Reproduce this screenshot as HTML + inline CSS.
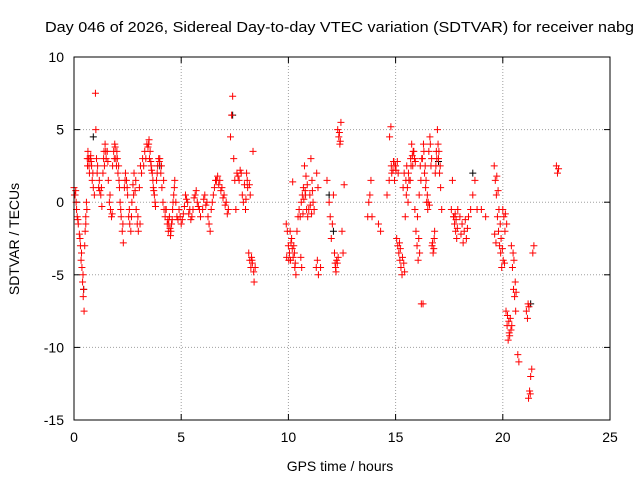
<!DOCTYPE html>
<html><head><meta charset="utf-8"><style>
body{margin:0;background:#fff;font-family:"Liberation Sans",sans-serif}
svg text{font-family:"Liberation Sans",sans-serif;font-size:14px;fill:#000}
</style></head><body>
<svg id="chart" width="640" height="480" xmlns="http://www.w3.org/2000/svg">
<text x="339.5" y="32" text-anchor="middle" textLength="589" lengthAdjust="spacingAndGlyphs" style="font-size:15px">Day 046 of 2026, Sidereal Day-to-day VTEC variation (SDTVAR) for receiver nabg</text>
<text x="340" y="471" text-anchor="middle">GPS time / hours</text>
<text transform="translate(19,239) rotate(-90)" text-anchor="middle">SDTVAR / TECUs</text>
<g id="grid"></g><g id="ticks"></g><g id="marks"></g>
<rect x="74" y="57" width="536" height="363" fill="none" stroke="#000" stroke-width="1"/>
</svg>
<script>
const xTicks=[0,5,10,15,20,25];
const yTicks=[10,5,0,-5,-10,-15];
const redX=[0,0.05,0.1,0.12,0.15,0.2,0.25,0.3,0.33,0.37,0.4,0.43,0.47,0.5,0.52,0.55,0.58,0.6,0.62,0.65,0.7,0.75,0.8,0.85,0.9,0.95,1.0,1.02,1.05,1.1,1.15,1.2,1.25,1.3,1.35,1.4,1.45,1.5,1.55,1.6,1.65,1.7,1.75,1.8,1.85,1.9,1.95,2.0,2.05,2.1,2.15,2.2,2.25,2.3,2.35,2.4,2.45,2.5,2.55,2.6,2.65,2.7,2.75,2.8,2.85,2.9,2.95,3.0,3.05,3.1,3.2,3.3,3.4,3.5,3.55,3.6,3.65,3.7,3.75,3.8,3.85,3.9,3.95,4.0,4.05,4.1,4.15,4.2,4.25,4.3,4.35,4.4,4.45,4.5,4.55,4.6,4.65,4.7,4.75,4.8,4.9,5.0,5.1,5.2,5.3,5.4,5.5,5.6,5.7,5.8,5.9,6.0,6.1,6.2,6.3,6.35,6.4,6.5,6.6,6.7,6.8,6.9,7.0,7.1,7.2,7.3,7.35,7.4,7.45,7.5,7.55,7.6,7.7,7.8,7.85,7.9,8.0,8.05,8.1,8.15,8.2,8.25,8.3,8.35,8.4,8.45,9.9,9.95,10.0,10.05,10.1,10.15,10.2,10.25,10.3,10.35,10.4,10.45,10.5,10.55,10.6,10.65,10.7,10.75,10.8,10.85,10.9,10.95,11.0,11.05,11.1,11.15,11.2,11.3,11.35,11.4,11.5,11.8,11.9,11.95,12.0,12.05,12.1,12.15,12.2,12.25,12.3,12.35,12.4,12.45,12.5,12.55,12.6,13.7,13.75,13.8,13.85,13.9,14.2,14.3,14.6,14.7,14.8,14.9,14.95,15.0,15.05,15.1,15.15,15.2,15.25,15.3,15.35,15.4,15.45,15.5,15.55,15.6,15.7,15.75,15.8,15.85,15.9,15.95,16.0,16.05,16.1,16.15,16.2,16.25,16.3,16.35,16.4,16.45,16.5,16.55,16.6,16.65,16.7,16.75,16.8,16.85,16.9,16.95,17.0,17.05,17.1,17.15,17.6,17.7,17.75,17.8,17.85,17.9,18.0,18.1,18.2,18.3,18.4,18.5,18.6,18.7,18.8,19.0,19.2,19.6,19.65,19.7,19.75,19.8,19.85,19.9,19.95,20.0,20.05,20.1,20.15,20.2,20.25,20.3,20.35,20.4,20.45,20.5,20.55,20.6,20.7,20.75,21.1,21.15,21.2,21.25,21.3,21.35,21.4,21.45,22.5,22.55,22.6];
const redY=[1,0.5,0,-0.5,-1,-1.5,-2.2,-3,-4,-4.5,-5.5,-6.5,-7.5,-3,-2,-1,0,-0.5,3,3.5,2.5,3,2.8,1.5,1,0.5,7.5,5,3,2.5,1,0.8,0.5,-0.3,2,3.5,4,3,3.5,1.5,0,-0.5,-1,2.5,3.5,4,3,3.5,2,1.5,0,-1,-2,-2.8,1,2,1.5,0.5,-1,-1.5,-2,0,1.2,2,0.8,-0.5,-1.5,-2,1,2.5,3,3.5,4,4.3,3.5,2.5,2,1,0.5,-0.3,1.5,2.5,3,3,2,1,0,-0.5,-1,-0.5,-1.5,-2,-1,-2.3,-1.5,-0.5,0.5,1.5,0,-1,-0.5,-1.5,-0.8,0.5,0,-0.5,-1,0.3,0.8,-0.3,-1,-0.5,0.5,0,-1.5,-2,-0.5,0.5,1.5,1.8,1.5,1,0.5,0,-0.5,4.5,6,7.3,3,1.5,-0.5,2,1.5,2,0.5,0,-0.5,2,1,-3.5,-4,-4.5,-4,3.5,-5.5,-4.5,-1.5,-2,-3,-3.5,-4,-2.5,1.4,-3,-4.5,-5,-2,-1,-0.5,-1,0,0.5,1,2.5,0.5,-0.5,-1,-0.5,0.5,3,1.5,0,-0.5,-4.5,-4,-5,-4.5,1.5,0,-1,-2.5,-1.5,0.5,-3.5,-4.5,-4,5,4.5,4,5.5,-2,-3.5,1.2,-1,0,0.5,1.5,-1,-1.5,-2,0.5,1.5,2.5,2.8,1.5,2.5,-2.5,-3,-3.5,-4,-4.5,-5,1,2,-1,0.5,1,2,3,4,2.5,3.5,-0.5,-2,-3,-4,0.5,2.5,-7,3,4,2,1,0,-0.5,3.5,4.5,2.5,-3,-3.5,-2.5,2,3.5,5,3,2,1,-0.5,-0.5,-1,-1.5,-2,-2.5,-0.5,-1,-1.5,-2,-2.5,-1,-0.5,0.5,1.5,-0.5,-0.5,-1,2.5,1.5,0.5,-1,-2,-3,-3.5,-4.5,-0.5,-1,-2,-7.5,-8.5,-9.5,-9,-8,-3,-4.5,-6,-6.5,-7.5,-10.5,-11,-7.5,-8,-13.5,-13,-12,-11.5,-3.5,-3,2.5,2,2.3];
const extraX=[0.02,0.08,0.18,0.28,0.35,0.42,0.45,0.55,0.63,0.68,0.72,0.78,0.82,0.88,1.08,1.18,1.28,1.38,1.42,1.48,1.58,1.68,1.78,1.88,1.92,1.98,2.02,2.08,2.12,2.18,2.28,2.38,2.48,2.58,2.68,2.78,2.88,2.98,3.08,3.15,3.25,3.35,3.45,3.48,3.52,3.58,3.62,3.68,3.72,3.78,3.88,3.98,4.08,4.18,4.28,4.38,4.42,4.48,4.52,4.58,4.62,4.68,4.85,4.95,5.05,5.15,5.25,5.35,5.45,5.55,5.65,5.75,5.85,6.05,6.15,6.25,6.45,6.55,6.65,6.75,6.85,6.95,7.05,7.15,7.65,7.75,7.95,8.02,8.08,8.18,8.22,8.28,8.32,8.38,9.92,10.02,10.08,10.12,10.18,10.22,10.28,10.32,10.58,10.62,10.68,10.72,10.78,10.82,10.88,11.02,11.08,11.12,11.32,11.38,12.18,12.22,12.28,12.32,12.38,12.42,14.72,14.78,14.82,14.88,14.92,14.98,15.02,15.08,15.12,15.18,15.22,15.32,15.38,15.42,15.48,15.52,15.58,15.62,15.68,15.72,15.78,15.82,15.88,15.92,16.02,16.08,16.12,16.18,16.22,16.28,16.32,16.38,16.42,16.48,16.52,16.58,16.62,16.68,16.72,16.78,16.82,16.88,16.92,16.98,17.02,17.08,17.65,17.72,17.78,17.82,17.88,18.05,18.15,18.25,18.35,19.62,19.68,19.72,19.78,19.82,19.88,19.92,19.98,20.02,20.08,20.12,20.18,20.22,20.28,20.32,20.38,20.42,20.48,20.52,20.58,20.62,21.18,21.22,21.28];
const extraY=[0.5,0.8,-1.2,-2.5,-3.5,-5,-6,-1.5,2.5,3,2,3.2,2.5,2,2,1.5,1,3,2.5,3.5,2.8,0.5,-0.8,3,3.8,2.5,3,2.5,1,-0.5,-1.5,1.5,1,-0.5,-1,0.5,1.5,-1,-1.5,2,2.5,3,3.8,4,3,2.8,2.2,1.5,0.8,0,2,2.8,2.5,1.5,-0.5,-1.2,-1.5,-1.8,-2,-1.2,0,1,-1.2,-1,-1.2,-0.3,0.2,-0.8,-1.2,-0.5,0.5,0,-0.5,0.2,-0.2,-1,0,1,1.5,1.2,0.8,0.3,-0.2,-0.8,1.8,2.2,1.2,0.2,1.5,1.2,0.5,-3.8,-4.2,-4.8,-3.8,-4,-2,-2.8,-3.2,-3.8,-3.5,-4.2,-3.8,-4.5,-0.8,0.2,0.8,1.8,1.2,-0.2,-0.8,0.8,2,1,-4.2,-4.8,-4.2,-3.8,4.8,4.2,4.5,5.2,2,2.2,2.8,2.5,2.2,2.8,2,-2.8,-3.2,-3.8,-4.2,-4.8,1.5,2.5,0,1.5,1.5,2.5,3.2,3.5,3,2.8,-1,-2.5,-3.5,1.5,3,-7,3.5,2.5,1.5,0.5,0,-0.2,4,3,-2.8,-3.2,-2,2.5,3,4,3.5,2.5,1.5,-1,-0.8,-1.2,-1.8,-2.2,-2.8,-1.2,-1.8,-2.2,-2.8,1.8,0.8,-0.5,-1.5,-2.5,-3.2,-4,-4.2,-0.8,-1.5,-7.8,-8.2,-9.2,-8.8,-8.5,-3.5,-4,-5.5,-6.2,-7,-7.2,-13.2,-12.8,-12.5];
const blackX=[0.9,7.4,12.1,17.0,18.6,21.3,0.45,4.0,11.9];
const blackY=[4.5,6,-2,2.8,2,-7,-6,2.5,0.5];
const X0=74,X1=610,Y0=420,Y1=57,xMin=0,xMax=25,yMin=-15,yMax=10;
const sx=v=>X0+(v-xMin)/(xMax-xMin)*(X1-X0);
const sy=v=>Y0-(v-yMin)/(yMax-yMin)*(Y0-Y1);
const NS="http://www.w3.org/2000/svg";
const grid=document.getElementById('grid'),ticks=document.getElementById('ticks'),marks=document.getElementById('marks');
function mk(t,a){const e=document.createElementNS(NS,t);for(const k in a)e.setAttribute(k,a[k]);return e;}
xTicks.forEach(v=>{const x=sx(v);
 if(v>xMin&&v<xMax){const g=mk('line',{x1:x,x2:x,y1:Y1,y2:Y0,stroke:'#a0a0a0','stroke-dasharray':'1,2'});grid.appendChild(g);}
 const t=mk('line',{x1:x,x2:x,y1:Y0,y2:Y0-6,stroke:'#000'});ticks.appendChild(t);
 const t2=mk('line',{x1:x,x2:x,y1:Y1,y2:Y1+6,stroke:'#000'});ticks.appendChild(t2);
 const l=mk('text',{x:x,y:Y0+22,'text-anchor':'middle'});l.textContent=v;ticks.appendChild(l);});
yTicks.forEach(v=>{const y=sy(v);
 if(v>yMin&&v<yMax){const g=mk('line',{x1:X0,x2:X1,y1:y,y2:y,stroke:'#a0a0a0','stroke-dasharray':'1,2'});grid.appendChild(g);}
 const t=mk('line',{x1:X0,x2:X0+6,y1:y,y2:y,stroke:'#000'});ticks.appendChild(t);
 const t2=mk('line',{x1:X1,x2:X1-6,y1:y,y2:y,stroke:'#000'});ticks.appendChild(t2);
 const l=mk('text',{x:X0-10,y:y+5,'text-anchor':'end'});l.textContent=v;ticks.appendChild(l);});
function plus(xv,yv,c,name){const x=sx(xv),y=sy(yv);
 const p=mk('path',{d:`M${x-3.5},${y}H${x+3.5}M${x},${y-3.5}V${y+3.5}`,stroke:c,'stroke-width':1,fill:'none'});
 
 
 marks.appendChild(p);}
blackX.forEach((v,i)=>plus(v,blackY[i],'#000','black-point'));
redX.forEach((v,i)=>plus(v,redY[i],'#ff0000','red-point'));
extraX.forEach((v,i)=>plus(v,extraY[i],'#ff0000','red-point'));
</script>
</body></html>
